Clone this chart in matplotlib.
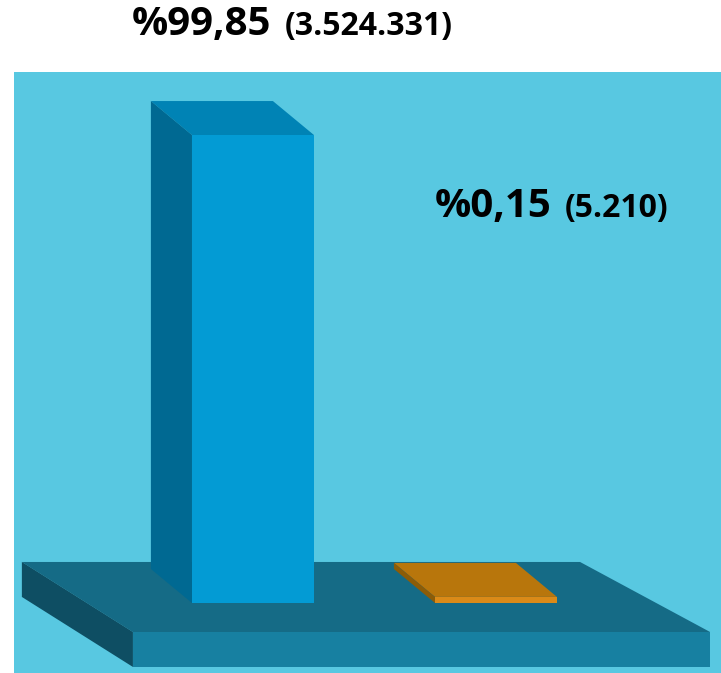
import matplotlib
matplotlib.use("Agg")
import matplotlib.pyplot as plt
from matplotlib.patches import Polygon, Rectangle

# ---------------- data ----------------
categories = ["Grup 1", "Grup 2"]
percentages = [99.85, 0.15]
counts = [3524331, 5210]

def fmt_pct(v):
    return "%" + f"{v:.2f}".replace(".", ",")

def fmt_count(n):
    return "(" + f"{n:,}".replace(",", ".") + ")"

# ---------------- style / layout ----------------
bg_color = "#58C8E1"
front_colors = ["#039BD4", "#DA8A18"]
top_colors = ["#0083B5", "#B8760C"]
side_colors = ["#006992", "#8C5C07"]
plat_top, plat_front, plat_side = "#156B86", "#1780A1", "#0E4E63"

bar_width = 0.502
depth_dx, depth_dy = -0.169, 7.25          # pseudo-3D depth offset (data units)
min_visible = 1.3                           # minimum drawn thickness for tiny bars
label_pos = [(-0.498, 121.2), (0.749, 82.4)]  # text anchors (left, baseline)
font = ["Open Sans", "DejaVu Sans"]

fig = plt.figure(figsize=(7.21, 6.73), dpi=100)
fig.patch.set_facecolor("white")
fig.add_artist(Rectangle((0.0194, 0), 1 - 0.0194, 0.893, transform=fig.transFigure,
                         facecolor=bg_color, edgecolor="none", zorder=0))

ax = fig.add_axes([0, 0, 1, 1])
ax.set_xlim(-1.041, 1.926)
ax.set_ylim(-14.94, 128.66)
ax.axis("off")
ax.patch.set_alpha(0)

# ---------------- base platform ----------------
fx0, fx1, fy = -0.494, 1.881, -6.19
bx0, bx1, by = -0.951, 1.346, 8.75
bottom = -13.65
ax.add_patch(Polygon([(bx0, by), (bx1, by), (fx1, fy), (fx0, fy)],
                     closed=True, facecolor=plat_top, edgecolor="none", zorder=1))
ax.add_patch(Polygon([(fx0, fy), (fx1, fy), (fx1, bottom), (fx0, bottom)],
                     closed=True, facecolor=plat_front, edgecolor="none", zorder=1))
ax.add_patch(Polygon([(bx0, by), (fx0, fy), (fx0, bottom), (bx0, bottom + (by - fy))],
                     closed=True, facecolor=plat_side, edgecolor="none", zorder=1))

# ---------------- bars ----------------
xs = list(range(len(categories)))
heights = [max(v, min_visible) for v in percentages]
bars = ax.bar(xs, heights, width=bar_width, color=front_colors, zorder=3)
for b, fc_top, fc_side in zip(bars, top_colors, side_colors):
    x0 = b.get_x()
    x1 = x0 + b.get_width()
    h = b.get_height()
    ax.add_patch(Polygon([(x0, h), (x1, h), (x1 + depth_dx, h + depth_dy), (x0 + depth_dx, h + depth_dy)],
                         closed=True, facecolor=fc_top, edgecolor="none", zorder=2))
    ax.add_patch(Polygon([(x0, 0), (x0, h), (x0 + depth_dx, h + depth_dy), (x0 + depth_dx, depth_dy)],
                         closed=True, facecolor=fc_side, edgecolor="none", zorder=2))

# ---------------- labels ----------------
fig.canvas.draw()
for (lx, ly), p, c in zip(label_pos, percentages, counts):
    t = ax.text(lx, ly, fmt_pct(p), fontsize=29, fontweight="bold", fontstyle="normal", family=font,
                ha="left", va="baseline", color="black", zorder=5)
    fig.canvas.draw()
    bb = t.get_window_extent()
    sx = ax.transData.inverted().transform((bb.x1 + 13, 0))[0]
    ax.text(sx, ly, fmt_count(c), fontsize=23, fontweight="bold", fontstyle="normal", family=font,
            ha="left", va="baseline", color="black", zorder=5)

fig.savefig("out.png", dpi=100)
